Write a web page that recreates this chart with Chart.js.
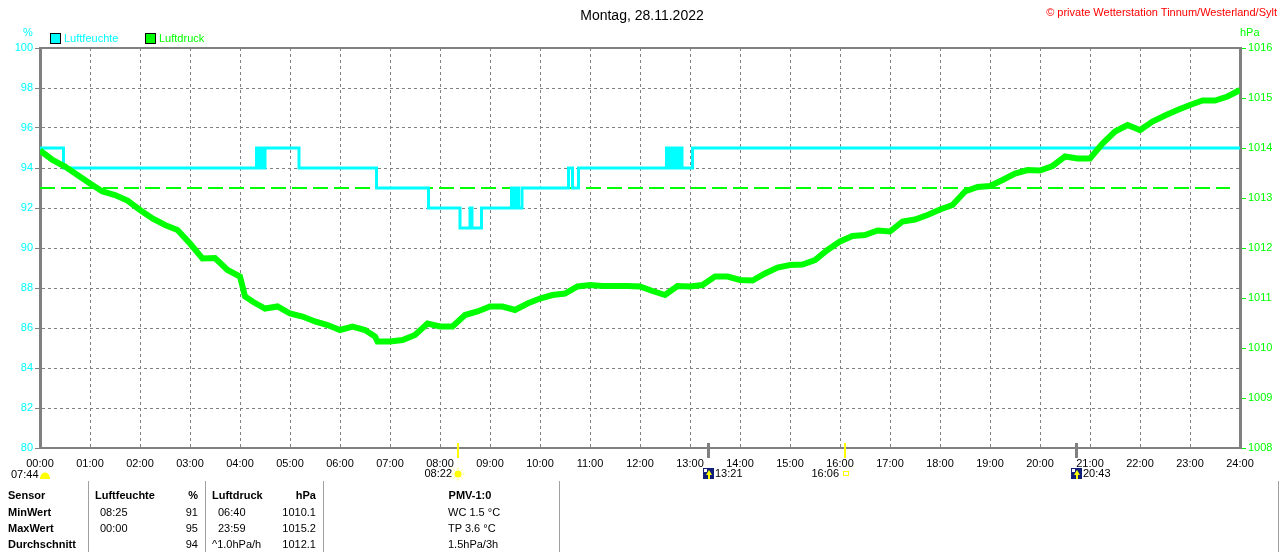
<!DOCTYPE html>
<html>
<head>
<meta charset="utf-8">
<title>Montag, 28.11.2022</title>
<script src="https://cdn.jsdelivr.net/npm/chart.js@4.4.0/dist/chart.umd.min.js"></script>
<style>
  html, body { margin: 0; padding: 0; background: #fff; }
  #wrap { position: relative; width: 1280px; height: 552px; overflow: hidden;
          font-family: "Liberation Sans", Arial, sans-serif; font-size: 11px; }
  #c { position: absolute; left: 0; top: 0; }
  .t { position: absolute; white-space: nowrap; line-height: 14px; }
  .b { font-weight: bold; }
  .r { text-align: right; }
  .box { position: absolute; width: 9px; height: 9px; border: 1px solid #000; }
  .sep { position: absolute; width: 1px; background: #a0a0a0; top: 481px; height: 71px; }
</style>
</head>
<body>
<div id="wrap">
  <canvas id="c" width="1280" height="552"></canvas>

  <div class="t" style="left:0;width:1284px;top:7px;text-align:center;font-size:14px;line-height:16px;">Montag, 28.11.2022</div>
  <div class="t r" style="right:3px;top:5px;color:#ff0000;">&copy; private Wetterstation Tinnum/Westerland/Sylt</div>

  <div class="t" style="left:23px;top:25px;color:#00ffff;">%</div>
  <div class="t" style="left:1240px;top:25px;color:#00ff00;">hPa</div>

  <div class="box" style="left:50px;top:33px;background:#00ffff;"></div>
  <div class="t" style="left:64px;top:31px;color:#00ffff;">Luftfeuchte</div>
  <div class="box" style="left:145px;top:33px;background:#00ff00;"></div>
  <div class="t" style="left:159px;top:31px;color:#00ff00;">Luftdruck</div>

  <!-- table below the chart -->
  <div class="sep" style="left:88px;"></div>
  <div class="sep" style="left:205px;"></div>
  <div class="sep" style="left:323px;"></div>
  <div class="sep" style="left:559px;"></div>
  <div class="sep" style="left:1278px;"></div>

  <div class="t b" style="left:8px;top:488px;">Sensor</div>
  <div class="t b" style="left:8px;top:505px;">MinWert</div>
  <div class="t b" style="left:8px;top:521px;">MaxWert</div>
  <div class="t b" style="left:8px;top:537px;">Durchschnitt</div>

  <div class="t b" style="left:95px;top:488px;">Luftfeuchte</div>
  <div class="t b r" style="left:150px;width:48px;top:488px;">%</div>
  <div class="t" style="left:100px;top:505px;">08:25</div>
  <div class="t r" style="left:150px;width:48px;top:505px;">91</div>
  <div class="t" style="left:100px;top:521px;">00:00</div>
  <div class="t r" style="left:150px;width:48px;top:521px;">95</div>
  <div class="t r" style="left:150px;width:48px;top:537px;">94</div>

  <div class="t b" style="left:212px;top:488px;">Luftdruck</div>
  <div class="t b r" style="left:260px;width:56px;top:488px;">hPa</div>
  <div class="t" style="left:218px;top:505px;">06:40</div>
  <div class="t r" style="left:260px;width:56px;top:505px;">1010.1</div>
  <div class="t" style="left:218px;top:521px;">23:59</div>
  <div class="t r" style="left:260px;width:56px;top:521px;">1015.2</div>
  <div class="t" style="left:212px;top:537px;">^1.0hPa/h</div>
  <div class="t r" style="left:260px;width:56px;top:537px;">1012.1</div>

  <div class="t b" style="left:420px;width:100px;text-align:center;top:488px;">PMV-1:0</div>
  <div class="t" style="left:448px;top:505px;">WC 1.5 &deg;C</div>
  <div class="t" style="left:448px;top:521px;">TP 3.6 &deg;C</div>
  <div class="t" style="left:448px;top:537px;">1.5hPa/3h</div>
</div>

<script>
// Luftfeuchte (%), change points of the stepped line: time in hours, value
const humidityTimes  = [0, 0.47, 4.33, 4.38, 4.42, 4.46, 4.5, 5.18, 6.73, 7.77, 8.4, 8.6, 8.64, 8.83,
                        9.43, 9.48, 9.51, 9.57, 9.64, 10.57, 10.65, 10.77,
                        12.53, 12.58, 12.61, 12.66, 12.7, 12.76, 12.8, 12.84, 13.05, 24];
const humidityValues = [95, 94, 95, 94, 95, 94, 95, 94, 93, 92, 91, 92, 91, 92,
                        93, 92, 93, 92, 93, 94, 93, 94,
                        95, 94, 95, 94, 95, 94, 95, 94, 95, 95];

// Luftdruck (hPa), read about every 15 minutes
const pressureTimes = [0, 0.25, 0.5, 0.75, 1, 1.25, 1.5, 1.75, 2, 2.25, 2.5, 2.75, 3, 3.25, 3.5, 3.75,
  4, 4.1, 4.25, 4.5, 4.75, 5, 5.25, 5.5, 5.75, 6, 6.25, 6.5, 6.7, 6.75, 7, 7.25, 7.5, 7.75,
  8, 8.25, 8.5, 8.75, 9, 9.25, 9.5, 9.75, 10, 10.25, 10.5, 10.75, 11, 11.25, 11.5, 11.75,
  12, 12.25, 12.5, 12.75, 13, 13.25, 13.5, 13.75, 14, 14.25, 14.5, 14.75, 15, 15.25, 15.5, 15.75,
  16, 16.25, 16.5, 16.75, 17, 17.25, 17.5, 17.75, 18, 18.25, 18.5, 18.75, 19, 19.25, 19.5, 19.75,
  20, 20.25, 20.5, 20.75, 21, 21.25, 21.5, 21.75, 22, 22.25, 22.5, 22.75, 23, 23.25, 23.5, 23.75, 24];
const pressureValues = [1013.95, 1013.76, 1013.63, 1013.46, 1013.29, 1013.13, 1013.06, 1012.95,
  1012.76, 1012.59, 1012.46, 1012.36, 1012.09, 1011.79, 1011.80, 1011.56,
  1011.43, 1011.03, 1010.93, 1010.79, 1010.83, 1010.69, 1010.63, 1010.53, 1010.46,
  1010.36, 1010.43, 1010.36, 1010.23, 1010.13, 1010.13, 1010.16, 1010.26, 1010.49,
  1010.43, 1010.43, 1010.66, 1010.73, 1010.83, 1010.83, 1010.76, 1010.89,
  1010.99, 1011.06, 1011.09, 1011.23, 1011.26, 1011.24, 1011.24, 1011.24,
  1011.23, 1011.14, 1011.06, 1011.24, 1011.23, 1011.26, 1011.43, 1011.43,
  1011.36, 1011.35, 1011.49, 1011.61, 1011.66, 1011.67, 1011.76, 1011.96,
  1012.13, 1012.24, 1012.26, 1012.35, 1012.33, 1012.53, 1012.57, 1012.66,
  1012.77, 1012.86, 1013.13, 1013.22, 1013.24, 1013.36, 1013.49, 1013.56,
  1013.55, 1013.64, 1013.83, 1013.79, 1013.79, 1014.09, 1014.33, 1014.46,
  1014.36, 1014.53, 1014.65, 1014.76, 1014.86, 1014.95, 1014.95, 1015.03, 1015.16];

// dashed green reference line (on the % axis)
const refTimes  = [0, 23.8];
const refValues = [93, 93];

// sun / moon events under the time axis
const sunTimes   = [8.367, 16.1];
const sunLabels  = ['08:22', '16:06'];
const moonTimes  = [13.35, 20.717];
const moonLabels = ['13:21', '20:43'];
const dawnLabel  = '07:44';

const FONT = '"Liberation Sans", Arial, sans-serif';
const GRID = '#808080';

function pts(xs, ys) {
  return xs.map(function(x, i) { return { x: x, y: ys[i] }; });
}

function hh(v) {
  return (v < 10 ? '0' : '') + v + ':00';
}

// frame line on top + sun/moon markers below the axis
var extras = {
  id: 'extras',
  afterDraw: function(chart) {
    var ctx = chart.ctx, a = chart.chartArea, xs = chart.scales.x;
    ctx.save();
    ctx.strokeStyle = GRID;
    ctx.lineWidth = 2;
    ctx.beginPath();
    ctx.moveTo(a.left, a.top);
    ctx.lineTo(a.right + 1, a.top);
    ctx.stroke();

    ctx.font = '11px ' + FONT;
    ctx.textBaseline = 'middle';
    ctx.fillStyle = '#000';

    // dawn at the left edge
    ctx.textAlign = 'left';
    ctx.fillText(dawnLabel, 11, 475);
    ctx.fillStyle = '#ffff00';
    ctx.beginPath();
    ctx.arc(45, 477, 4.5, Math.PI, 0);
    ctx.fill();
    ctx.fillRect(40, 477, 10, 2);

    sunTimes.forEach(function(t, i) {
      var px = Math.round(xs.getPixelForValue(t));
      ctx.fillStyle = '#ffff00';
      ctx.fillRect(px - 1, 443, 2, 15);
      ctx.fillStyle = '#000';
      ctx.textAlign = 'right';
      ctx.fillText(sunLabels[i], px - 6, 474);
      if (i === 0) {
        ctx.fillStyle = '#ffff00';
        ctx.beginPath();
        ctx.arc(px, 474, 3.5, 0, Math.PI * 2);
        ctx.fill();
        ctx.strokeStyle = '#ffff66';
        ctx.lineWidth = 1;
        for (var k = 0; k < 8; k++) {
          var ang = k * Math.PI / 4;
          ctx.beginPath();
          ctx.moveTo(px + Math.cos(ang) * 4.5, 474 + Math.sin(ang) * 4.5);
          ctx.lineTo(px + Math.cos(ang) * 6.5, 474 + Math.sin(ang) * 6.5);
          ctx.stroke();
        }
      } else {
        ctx.strokeStyle = '#ffff00';
        ctx.lineWidth = 1;
        ctx.strokeRect(px - 1.5, 471.5, 5, 4);
      }
    });

    moonTimes.forEach(function(t, i) {
      var px = Math.round(xs.getPixelForValue(t));
      ctx.fillStyle = GRID;
      ctx.fillRect(px - 1, 443, 3, 15);
      ctx.fillStyle = '#10207a';
      ctx.fillRect(px - 5, 468, 11, 11);
      ctx.fillStyle = '#ffffff';
      ctx.fillRect(px - 4, 469, 3, 3);
      ctx.fillStyle = '#ffff00';
      ctx.beginPath();
      ctx.moveTo(px + 1, 470);
      ctx.lineTo(px + 4, 475);
      ctx.lineTo(px - 2, 475);
      ctx.closePath();
      ctx.fill();
      ctx.fillRect(px, 474, 2, 5);
      ctx.fillStyle = '#000';
      ctx.textAlign = 'left';
      ctx.fillText(moonLabels[i], px + 7, 474);
    });
    ctx.restore();
  }
};

new Chart(document.getElementById('c'), {
  type: 'line',
  data: {
    datasets: [{
      label: 'Luftdruck',
      data: pts(pressureTimes, pressureValues),
      yAxisID: 'y2',
      borderColor: '#00ff00',
      borderWidth: 6,
      pointRadius: 0,
      order: 0
    }, {
      label: 'Luftfeuchte',
      data: pts(humidityTimes, humidityValues),
      yAxisID: 'y',
      borderColor: '#00ffff',
      borderWidth: 3,
      stepped: true,
      pointRadius: 0,
      order: 1
    }, {
      label: 'Referenz',
      data: pts(refTimes, refValues),
      yAxisID: 'y',
      borderColor: '#00ff00',
      borderWidth: 2,
      borderDash: [15, 6],
      pointRadius: 0,
      order: 2
    }]
  },
  options: {
    responsive: false,
    animation: false,
    devicePixelRatio: 1,
    layout: { padding: { top: 48, left: 0, right: 0, bottom: 0 } },
    plugins: {
      legend: { display: false },
      tooltip: { enabled: false }
    },
    scales: {
      x: {
        type: 'linear',
        min: 0,
        max: 24,
        ticks: {
          stepSize: 1,
          autoSkip: false,
          maxRotation: 0,
          padding: 9,
          color: '#000',
          font: { family: FONT, size: 11 },
          callback: function(v) { return hh(v); }
        },
        grid: { color: GRID, lineWidth: 1, drawTicks: false },
        border: { color: GRID, width: 2, dash: [3, 3] },
        afterFit: function(s) { s.height = 104; }
      },
      y: {
        position: 'left',
        min: 80,
        max: 100,
        ticks: {
          stepSize: 2,
          padding: 2,
          color: '#00ffff',
          font: { family: FONT, size: 11 },
          callback: function(v) { return String(v); }
        },
        grid: { color: GRID, lineWidth: 1, tickLength: 5 },
        border: { color: GRID, width: 3, dash: [3, 3] },
        afterFit: function(s) { s.width = 40; }
      },
      y2: {
        position: 'right',
        min: 1008,
        max: 1016,
        ticks: {
          stepSize: 1,
          padding: 2,
          color: '#00ff00',
          font: { family: FONT, size: 11 },
          callback: function(v) { return String(v); }
        },
        grid: { drawOnChartArea: false, tickColor: '#00ff00', tickLength: 6 },
        border: { color: GRID, width: 3 },
        afterFit: function(s) { s.width = 40; }
      }
    }
  },
  plugins: [extras]
});
</script>
</body>
</html>
